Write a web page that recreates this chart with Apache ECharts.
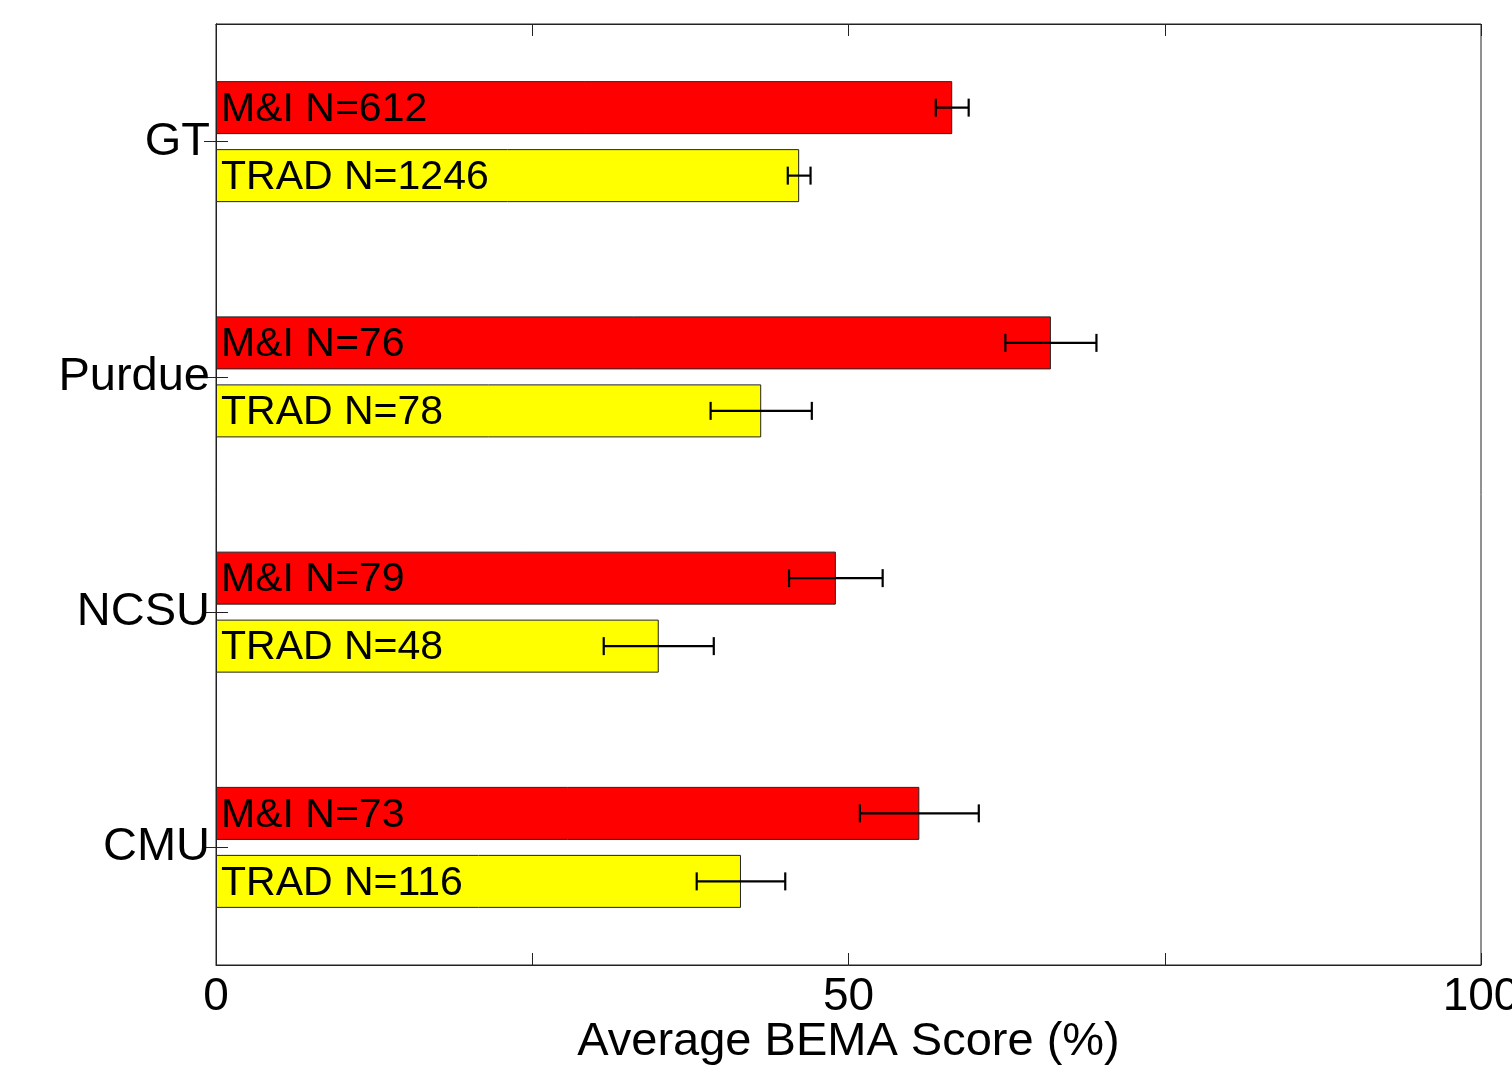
<!DOCTYPE html>
<html>
<head>
<meta charset="utf-8">
<script src="https://cdn.jsdelivr.net/npm/echarts@6/dist/echarts.min.js"></script>
<style>
html,body{margin:0;padding:0;background:#fff;}
#chart{width:1512px;height:1071px;}
</style>
</head>
<body>
<div id="chart"></div>
<script>
var categories = ['GT', 'Purdue', 'NCSU', 'CMU'];
var miScores = [58.2, 66.0, 49.0, 55.6];
var miErr = [1.3, 3.6, 3.7, 4.7];
var miN = [612, 76, 79, 73];
var tradScores = [46.1, 43.1, 35.0, 41.5];
var tradErr = [0.9, 4.0, 4.35, 3.5];
var tradN = [1246, 78, 48, 116];
var xTickLabels = ['0', '50', '100'];

var BAR_W = 53, BAR_GAP_PX = 15;
var FONT = 'Liberation Sans, Arial, sans-serif';

function errSeries(scores, errs, sign) {
  var data = scores.map(function (v, i) { return [v - errs[i], v + errs[i], i]; });
  return {
    type: 'custom',
    xAxisIndex: 0, yAxisIndex: 0,
    z: 10,
    silent: true,
    data: data,
    renderItem: function (params, api) {
      var lo = api.coord([api.value(0), api.value(2)]);
      var hi = api.coord([api.value(1), api.value(2)]);
      var off = sign * (BAR_W + BAR_GAP_PX) / 2;
      var y = lo[1] + off;
      var cap = 9;
      var st = { stroke: '#000', lineWidth: 2.2 };
      return {
        type: 'group',
        children: [
          { type: 'line', shape: { x1: lo[0], y1: y, x2: hi[0], y2: y }, style: st },
          { type: 'line', shape: { x1: lo[0], y1: y - cap, x2: lo[0], y2: y + cap }, style: st },
          { type: 'line', shape: { x1: hi[0], y1: y - cap, x2: hi[0], y2: y + cap }, style: st }
        ]
      };
    }
  };
}

var chart = echarts.init(document.getElementById('chart'));
chart.setOption({
  backgroundColor: '#ffffff',
  animation: false,
  grid: { left: 216, right: 31, top: 24, bottom: 106, show: true, borderColor: '#222', borderWidth: 1,
          containLabel: false, outerBoundsMode: 'none' },
  xAxis: [{
    type: 'value', min: 0, max: 100, interval: 25, position: 'bottom',
    name: 'Average BEMA Score (%)', nameLocation: 'middle', nameGap: 54, nameMoveOverlap: false,
    nameTextStyle: { fontSize: 47, color: '#000', fontFamily: FONT },
    axisLine: { show: true, lineStyle: { color: '#222', width: 1 } },
    axisTick: { show: true, inside: true, length: 12, lineStyle: { color: '#222' } },
    axisLabel: {
      fontSize: 46, color: '#000', fontFamily: FONT, margin: 9,
      formatter: function (v) { return v % 50 === 0 ? xTickLabels[v / 50] : ''; }
    },
    splitLine: { show: false }
  }, {
    type: 'value', min: 0, max: 100, interval: 25, position: 'top',
    axisLine: { show: true, lineStyle: { color: '#222', width: 1 } },
    axisTick: { show: true, inside: true, length: 12, lineStyle: { color: '#222' } },
    axisLabel: { show: false },
    splitLine: { show: false }
  }],
  yAxis: [{
    type: 'category', data: categories, inverse: true, position: 'left',
    axisLine: { show: true, lineStyle: { color: '#222', width: 1 } },
    axisTick: { show: true, inside: true, alignWithLabel: true, length: 12, lineStyle: { color: '#222' } },
    axisLabel: { fontSize: 47, color: '#000', fontFamily: FONT, margin: 6 }
  }, {
    type: 'category', data: categories, inverse: true, position: 'right',
    axisLine: { show: true, lineStyle: { color: '#222', width: 1 } },
    axisTick: { show: true, inside: true, alignWithLabel: true, length: 12, lineStyle: { color: '#222' } },
    axisLabel: { show: false }
  }],
  series: [{
    name: 'M&I', type: 'bar', data: miScores, barWidth: BAR_W, barGap: (BAR_GAP_PX / BAR_W * 100) + '%',
    itemStyle: { color: '#ff0000', borderColor: '#222', borderWidth: 1 },
    label: {
      show: true, position: 'insideLeft', distance: 5, offset: [0, 2], fontSize: 41, color: '#000', fontFamily: FONT,
      formatter: function (p) { return 'M&I N=' + miN[p.dataIndex]; }
    }
  }, {
    name: 'TRAD', type: 'bar', data: tradScores, barWidth: BAR_W,
    itemStyle: { color: '#ffff00', borderColor: '#222', borderWidth: 1 },
    label: {
      show: true, position: 'insideLeft', distance: 5, offset: [0, 2], fontSize: 41, color: '#000', fontFamily: FONT,
      formatter: function (p) { return 'TRAD N=' + tradN[p.dataIndex]; }
    }
  },
  errSeries(miScores, miErr, -1),
  errSeries(tradScores, tradErr, 1)
  ]
});
</script>
</body>
</html>
